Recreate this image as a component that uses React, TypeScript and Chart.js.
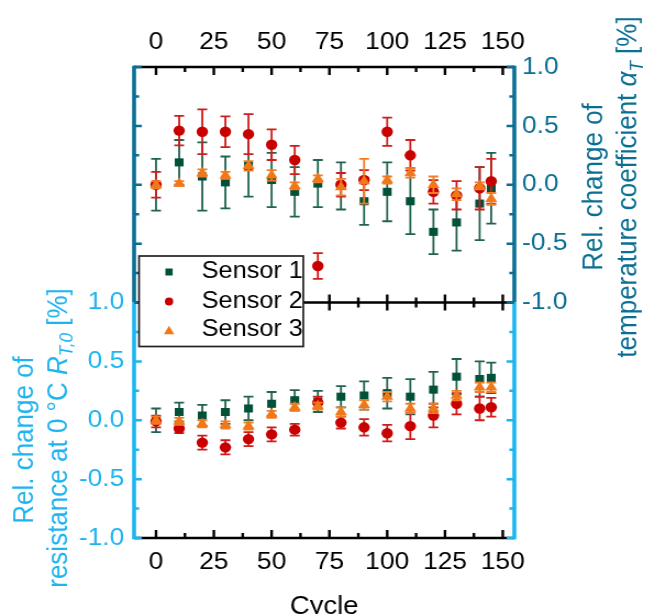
import React, { useEffect, useRef } from 'react';
import { Chart, registerables } from 'chart.js';

Chart.register(...registerables);

// ---------- data ----------
const CYCLES = [0, 10, 20, 30, 40, 50, 60, 70, 80, 90, 100, 110, 120, 130, 140, 145];
const SENSOR_LABELS = ['Sensor 1', 'Sensor 2', 'Sensor 3'];

// top panel: rel. change of temperature coefficient alpha_T [%]
const ALPHA_S1 = [0.0, 0.19, 0.07, 0.02, 0.16, 0.04, -0.06, 0.01, -0.01, -0.14, -0.06, -0.14, -0.4, -0.32, -0.16, -0.03];
const ALPHA_S1_ERR = [0.22, 0.19, 0.29, 0.22, 0.26, 0.23, 0.21, 0.2, 0.2, 0.2, 0.25, 0.28, 0.19, 0.24, 0.31, 0.3];
const ALPHA_S2 = [0.0, 0.46, 0.45, 0.45, 0.43, 0.34, 0.21, -0.69, 0.0, 0.04, 0.45, 0.25, -0.06, -0.09, -0.03, 0.03];
const ALPHA_S2_ERR = [0.11, 0.125, 0.19, 0.13, 0.17, 0.13, 0.12, 0.11, 0.1, 0.085, 0.12, 0.13, 0.1, 0.12, 0.18, 0.19];
const ALPHA_S3 = [0.0, 0.01, 0.1, 0.08, 0.16, 0.08, -0.01, 0.05, -0.02, 0.03, 0.04, 0.1, 0.0, -0.08, -0.01, -0.12];
const ALPHA_S3_ERR = [0.03, 0.02, 0.03, 0.03, 0.04, 0.045, 0.03, 0.03, 0.07, 0.19, 0.03, 0.04, 0.07, 0.05, 0.03, 0.05];

// bottom panel: rel. change of resistance at 0 °C R_T,0 [%]
const R0_S1 = [0.0, 0.07, 0.04, 0.07, 0.1, 0.14, 0.17, 0.16, 0.2, 0.21, 0.23, 0.2, 0.26, 0.37, 0.35, 0.36];
const R0_S1_ERR = [0.1, 0.08, 0.09, 0.1, 0.1, 0.1, 0.085, 0.09, 0.09, 0.12, 0.13, 0.15, 0.15, 0.15, 0.15, 0.13];
const R0_S2 = [-0.01, -0.07, -0.19, -0.23, -0.16, -0.12, -0.08, 0.15, -0.02, -0.06, -0.11, -0.05, 0.04, 0.14, 0.1, 0.11];
const R0_S2_ERR = [0.05, 0.04, 0.06, 0.06, 0.06, 0.06, 0.05, 0.05, 0.05, 0.07, 0.07, 0.11, 0.1, 0.09, 0.1, 0.08];
const R0_S3 = [0.0, -0.01, -0.03, -0.04, -0.05, 0.05, 0.11, 0.12, 0.07, 0.13, 0.2, 0.1, 0.1, 0.21, 0.28, 0.28];
const R0_S3_ERR = [0.03, 0.03, 0.03, 0.03, 0.03, 0.03, 0.03, 0.03, 0.04, 0.04, 0.04, 0.04, 0.04, 0.04, 0.04, 0.04];

const X_TICKS = [0, 25, 50, 75, 100, 125, 150];
const ALPHA_TICKS = [-1, -0.5, 0, 0.5, 1];
const R0_TICKS = [-1, -0.5, 0, 0.5, 1];
const X_MIN = -9.5;
const X_MAX = 155;
const PANEL_SHIFT = 2; // bottom panel sits 2 units below the top panel on the shared value axis

// ---------- style ----------
const W = 596;
const H = 614;
const FONT = "'Liberation Sans', Arial, Helvetica, sans-serif";
const TEAL = '#0b6f93';
const SKY = '#1eb4f0';
const COLORS = ['#00503a', '#c80000', '#f07818'];
const ERR_COLORS = ['#22634f', '#d01c1c', '#f27d28'];
const STYLES = ['rect', 'circle', 'triangle'];
const RADII = [5.7, 5.2, 6.3];
const CAP = 4.5;

const AREA = { left: 122, right: 468, top: 67, bottom: 538 };

const SERIES = [
  { top: ALPHA_S1, topErr: ALPHA_S1_ERR, bot: R0_S1, botErr: R0_S1_ERR },
  { top: ALPHA_S2, topErr: ALPHA_S2_ERR, bot: R0_S2, botErr: R0_S2_ERR },
  { top: ALPHA_S3, topErr: ALPHA_S3_ERR, bot: R0_S3, botErr: R0_S3_ERR },
];

type Seg = { t: string; it?: boolean; sub?: boolean };

function drawRotated(ctx: CanvasRenderingContext2D, segs: Seg[], bx: number, cy: number, size: number, color: string) {
  ctx.save();
  ctx.translate(bx, cy);
  ctx.rotate(-Math.PI / 2);
  ctx.fillStyle = color;
  ctx.textBaseline = 'alphabetic';
  ctx.textAlign = 'left';
  const fontOf = (s: Seg) => `${s.it ? 'italic ' : ''}${s.sub ? size * 0.66 : size}px ${FONT}`;
  const widths = segs.map((s) => {
    ctx.font = fontOf(s);
    return ctx.measureText(s.t).width;
  });
  const total = widths.reduce((a, b) => a + b, 0);
  let x = -total / 2;
  segs.forEach((s, i) => {
    ctx.font = fontOf(s);
    ctx.fillText(s.t, x, s.sub ? size * 0.22 : 0);
    x += widths[i];
  });
  ctx.restore();
}

function drawMarker(ctx: CanvasRenderingContext2D, style: string, x: number, y: number, w: number, h: number, color: string) {
  ctx.fillStyle = color;
  ctx.beginPath();
  if (style === 'rect') ctx.rect(x - w / 2, y - h / 2, w, h);
  else if (style === 'circle') ctx.ellipse(x, y, w / 2, h / 2, 0, 0, Math.PI * 2);
  else {
    ctx.moveTo(x, y - h / 2);
    ctx.lineTo(x + w / 2, y + h / 2);
    ctx.lineTo(x - w / 2, y + h / 2);
    ctx.closePath();
  }
  ctx.fill();
}

const errorBarPlugin = {
  id: 'errorBars',
  beforeDatasetDraw(chart: any, args: any) {
    const ds = chart.data.datasets[args.index];
    const meta = args.meta;
    const ys = chart.scales[meta.yAxisID];
    const ctx: CanvasRenderingContext2D = chart.ctx;
    ctx.save();
    ctx.strokeStyle = ds.errorColor;
    ctx.lineWidth = 1.8;
    ctx.beginPath();
    meta.data.forEach((el: any, i: number) => {
      const p = ds.data[i];
      const e = ds.errors[i];
      const yHi = ys.getPixelForValue(p.y + e);
      const yLo = ys.getPixelForValue(p.y - e);
      const x = el.x;
      ctx.moveTo(x, yHi);
      ctx.lineTo(x, yLo);
      ctx.moveTo(x - CAP, yHi);
      ctx.lineTo(x + CAP, yHi);
      ctx.moveTo(x - CAP, yLo);
      ctx.lineTo(x + CAP, yLo);
    });
    ctx.stroke();
    ctx.restore();
  },
};

const framePlugin = {
  id: 'panelFrame',
  afterDraw(chart: any) {
    const ctx: CanvasRenderingContext2D = chart.ctx;
    const ca = chart.chartArea;
    const xs = chart.scales.x;
    const ys = chart.scales.y;
    const yMid = ys.getPixelForValue(ALPHA_TICKS[0]);
    ctx.save();
    ctx.lineCap = 'butt';

    // x tick marks
    const xMinor = X_TICKS.slice(1).map((v, i) => (v + X_TICKS[i]) / 2);
    ctx.strokeStyle = '#000';
    ctx.lineWidth = 2.4;
    ctx.beginPath();
    const xMark = (v: number, major: boolean) => {
      const px = xs.getPixelForValue(v);
      const l = major ? 7 : 4;
      ctx.moveTo(px, ca.top);
      ctx.lineTo(px, ca.top + l + 1);
      ctx.moveTo(px, ca.bottom);
      ctx.lineTo(px, ca.bottom - l - 1);
      ctx.moveTo(px, yMid - l - 1);
      ctx.lineTo(px, yMid + l + 1);
    };
    X_TICKS.forEach((v) => xMark(v, true));
    xMinor.forEach((v) => xMark(v, false));
    ctx.stroke();

    // horizontal black axis lines
    ctx.lineWidth = 2.6;
    ctx.beginPath();
    [ca.top, yMid, ca.bottom].forEach((y) => {
      ctx.moveTo(ca.left, y);
      ctx.lineTo(ca.right, y);
    });
    ctx.stroke();

    // y tick marks
    const yMarks = (ticks: number[], shift: number, color: string) => {
      const majors = ticks.slice(1, -1);
      const minors = ticks.slice(1).map((v, i) => (v + ticks[i]) / 2);
      ctx.strokeStyle = color;
      ctx.lineWidth = 2.5;
      ctx.beginPath();
      const m = (v: number, len: number) => {
        const py = ys.getPixelForValue(v - shift);
        ctx.moveTo(ca.left, py);
        ctx.lineTo(ca.left + 1.6 + len, py);
        ctx.moveTo(ca.right, py);
        ctx.lineTo(ca.right - 1.6 - len, py);
      };
      majors.forEach((v) => m(v, 5.5));
      minors.forEach((v) => m(v, 3));
      ctx.stroke();
    };
    yMarks(ALPHA_TICKS, 0, TEAL);
    yMarks(R0_TICKS, PANEL_SHIFT, SKY);

    // coloured vertical axis lines + corner stubs
    ctx.lineWidth = 3.6;
    const vline = (x: number, y0: number, y1: number, c: string) => {
      ctx.strokeStyle = c;
      ctx.beginPath();
      ctx.moveTo(x, y0);
      ctx.lineTo(x, y1);
      ctx.stroke();
    };
    vline(ca.left, ca.top - 1.3, yMid, TEAL);
    vline(ca.right, ca.top - 1.3, yMid, TEAL);
    vline(ca.left, yMid, ca.bottom + 1.3, SKY);
    vline(ca.right, yMid, ca.bottom + 1.3, SKY);
    ctx.lineWidth = 2.6;
    const stub = (x0: number, x1: number, y: number, c: string) => {
      ctx.strokeStyle = c;
      ctx.beginPath();
      ctx.moveTo(x0, y);
      ctx.lineTo(x1, y);
      ctx.stroke();
    };
    stub(ca.left, ca.left + 7, ca.top, TEAL);
    stub(ca.right - 7, ca.right, ca.top, TEAL);
    stub(ca.left, ca.left + 7, yMid, TEAL);
    stub(ca.right - 7, ca.right, yMid, TEAL);
    stub(ca.left, ca.left + 7, ca.bottom, SKY);
    stub(ca.right - 7, ca.right, ca.bottom, SKY);
    ctx.restore();
  },
};

const titlePlugin = {
  id: 'axisTitles',
  afterDraw(chart: any) {
    const ctx: CanvasRenderingContext2D = chart.ctx;
    const ca = chart.chartArea;
    const size = 26;
    drawRotated(ctx, [{ t: 'Rel. change of' }], 30.3, 440, size, SKY);
    drawRotated(
      ctx,
      [{ t: 'resistance at 0 °C ' }, { t: 'R', it: true }, { t: 'T,0', it: true, sub: true }, { t: ' [%]' }],
      60.7,
      438,
      size,
      SKY
    );
    drawRotated(ctx, [{ t: 'Rel. change of' }], 548.4, 187, size, TEAL);
    drawRotated(
      ctx,
      [{ t: 'temperature coefficient ' }, { t: 'α', it: true }, { t: 'T', it: true, sub: true }, { t: ' [%]' }],
      579.2,
      187,
      size,
      TEAL
    );
    ctx.save();
    ctx.fillStyle = '#000';
    ctx.font = `25px ${FONT}`;
    ctx.textAlign = 'center';
    ctx.textBaseline = 'alphabetic';
    ctx.fillText('Cycle', (ca.left + ca.right) / 2, 614);
    ctx.restore();
  },
};

const legendPlugin = {
  id: 'boxLegend',
  afterDraw(chart: any) {
    const ctx: CanvasRenderingContext2D = chart.ctx;
    const ca = chart.chartArea;
    const bx = ca.left + 4.5;
    const by = ca.top + 189;
    const bw = 149.5;
    const bh = 90.5;
    ctx.save();
    ctx.fillStyle = '#fff';
    ctx.fillRect(bx, by, bw, bh);
    ctx.strokeStyle = '#222';
    ctx.lineWidth = 1.7;
    ctx.strokeRect(bx, by, bw, bh);
    const rowY = [by + 16, by + 45.5, by + 74];
    const sizes = [
      [6.6, 7],
      [7.6, 8],
      [9.4, 8.5],
    ];
    chart.data.datasets.forEach((ds: any, i: number) => {
      drawMarker(ctx, ds.pointStyle, bx + 27.3, rowY[i], sizes[i][0], sizes[i][1], ds.backgroundColor);
      ctx.fillStyle = '#000';
      ctx.font = `23px ${FONT}`;
      ctx.textAlign = 'left';
      ctx.textBaseline = 'middle';
      ctx.fillText(ds.label, bx + 57, rowY[i]);
    });
    ctx.restore();
  },
};

function buildConfig(): any {
  const datasets = SERIES.map((s, k) => ({
    label: SENSOR_LABELS[k],
    data: [
      ...CYCLES.map((c, i) => ({ x: c, y: s.top[i] })),
      ...CYCLES.map((c, i) => ({ x: c, y: s.bot[i] - PANEL_SHIFT })),
    ],
    errors: [...s.topErr, ...s.botErr],
    errorColor: ERR_COLORS[k],
    backgroundColor: COLORS[k],
    borderColor: COLORS[k],
    pointStyle: STYLES[k],
    pointRadius: RADII[k],
    pointHoverRadius: RADII[k],
    pointBorderWidth: 0,
    showLine: false,
    order: 3 - k,
    xAxisID: 'x',
    yAxisID: 'y',
  }));

  const tickFont = { family: FONT, size: 24 };
  const base = {
    type: 'linear',
    bounds: 'data',
    grid: { display: false, drawTicks: false },
    border: { display: false },
  };
  const xTicks = (pad: number) => ({
    font: tickFont,
    color: '#000',
    padding: pad,
    maxRotation: 0,
    autoSkip: false,
    callback: (v: number) => String(v),
  });

  return {
    type: 'scatter',
    data: { datasets },
    options: {
      animation: false,
      responsive: false,
      maintainAspectRatio: false,
      events: [],
      layout: { padding: 0 },
      plugins: { legend: { display: false }, tooltip: { enabled: false }, title: { display: false } },
      scales: {
        x: {
          ...base,
          position: 'bottom',
          min: X_MIN,
          max: X_MAX,
          afterBuildTicks: (s: any) => {
            s.ticks = X_TICKS.map((v) => ({ value: v }));
          },
          afterFit: (s: any) => {
            s.height = H - AREA.bottom;
          },
          ticks: xTicks(10),
        },
        xTop: {
          ...base,
          position: 'top',
          min: X_MIN,
          max: X_MAX,
          afterBuildTicks: (s: any) => {
            s.ticks = X_TICKS.map((v) => ({ value: v }));
          },
          afterFit: (s: any) => {
            s.height = AREA.top;
          },
          ticks: xTicks(10),
        },
        y: {
          ...base,
          position: 'right',
          min: -1 - PANEL_SHIFT,
          max: 1,
          afterBuildTicks: (s: any) => {
            s.ticks = ALPHA_TICKS.map((v) => ({ value: v }));
          },
          afterFit: (s: any) => {
            s.width = W - AREA.right;
          },
          ticks: { font: tickFont, color: TEAL, padding: 7, callback: (v: number) => v.toFixed(1) },
        },
        yLeft: {
          ...base,
          position: 'left',
          min: -1 - PANEL_SHIFT,
          max: 1,
          afterBuildTicks: (s: any) => {
            s.ticks = R0_TICKS.map((v) => ({ value: v - PANEL_SHIFT }));
          },
          afterFit: (s: any) => {
            s.width = AREA.left;
          },
          ticks: { font: tickFont, color: SKY, padding: 9, callback: (v: number) => (v + PANEL_SHIFT).toFixed(1) },
        },
      },
    },
    plugins: [errorBarPlugin, framePlugin, titlePlugin, legendPlugin],
  };
}

export default function App() {
  const ref = useRef<HTMLCanvasElement>(null);
  useEffect(() => {
    document.body.style.margin = '0';
    Chart.defaults.font.family = FONT;
    const chart = new Chart(ref.current as HTMLCanvasElement, buildConfig());
    return () => chart.destroy();
  }, []);
  return (
    <div style={{ position: 'fixed', left: 0, top: 0, width: 655, height: 614, background: '#fff' }}>
      <canvas ref={ref} width={W} height={H} style={{ width: '655px', height: '614px', display: 'block' }} />
    </div>
  );
}
